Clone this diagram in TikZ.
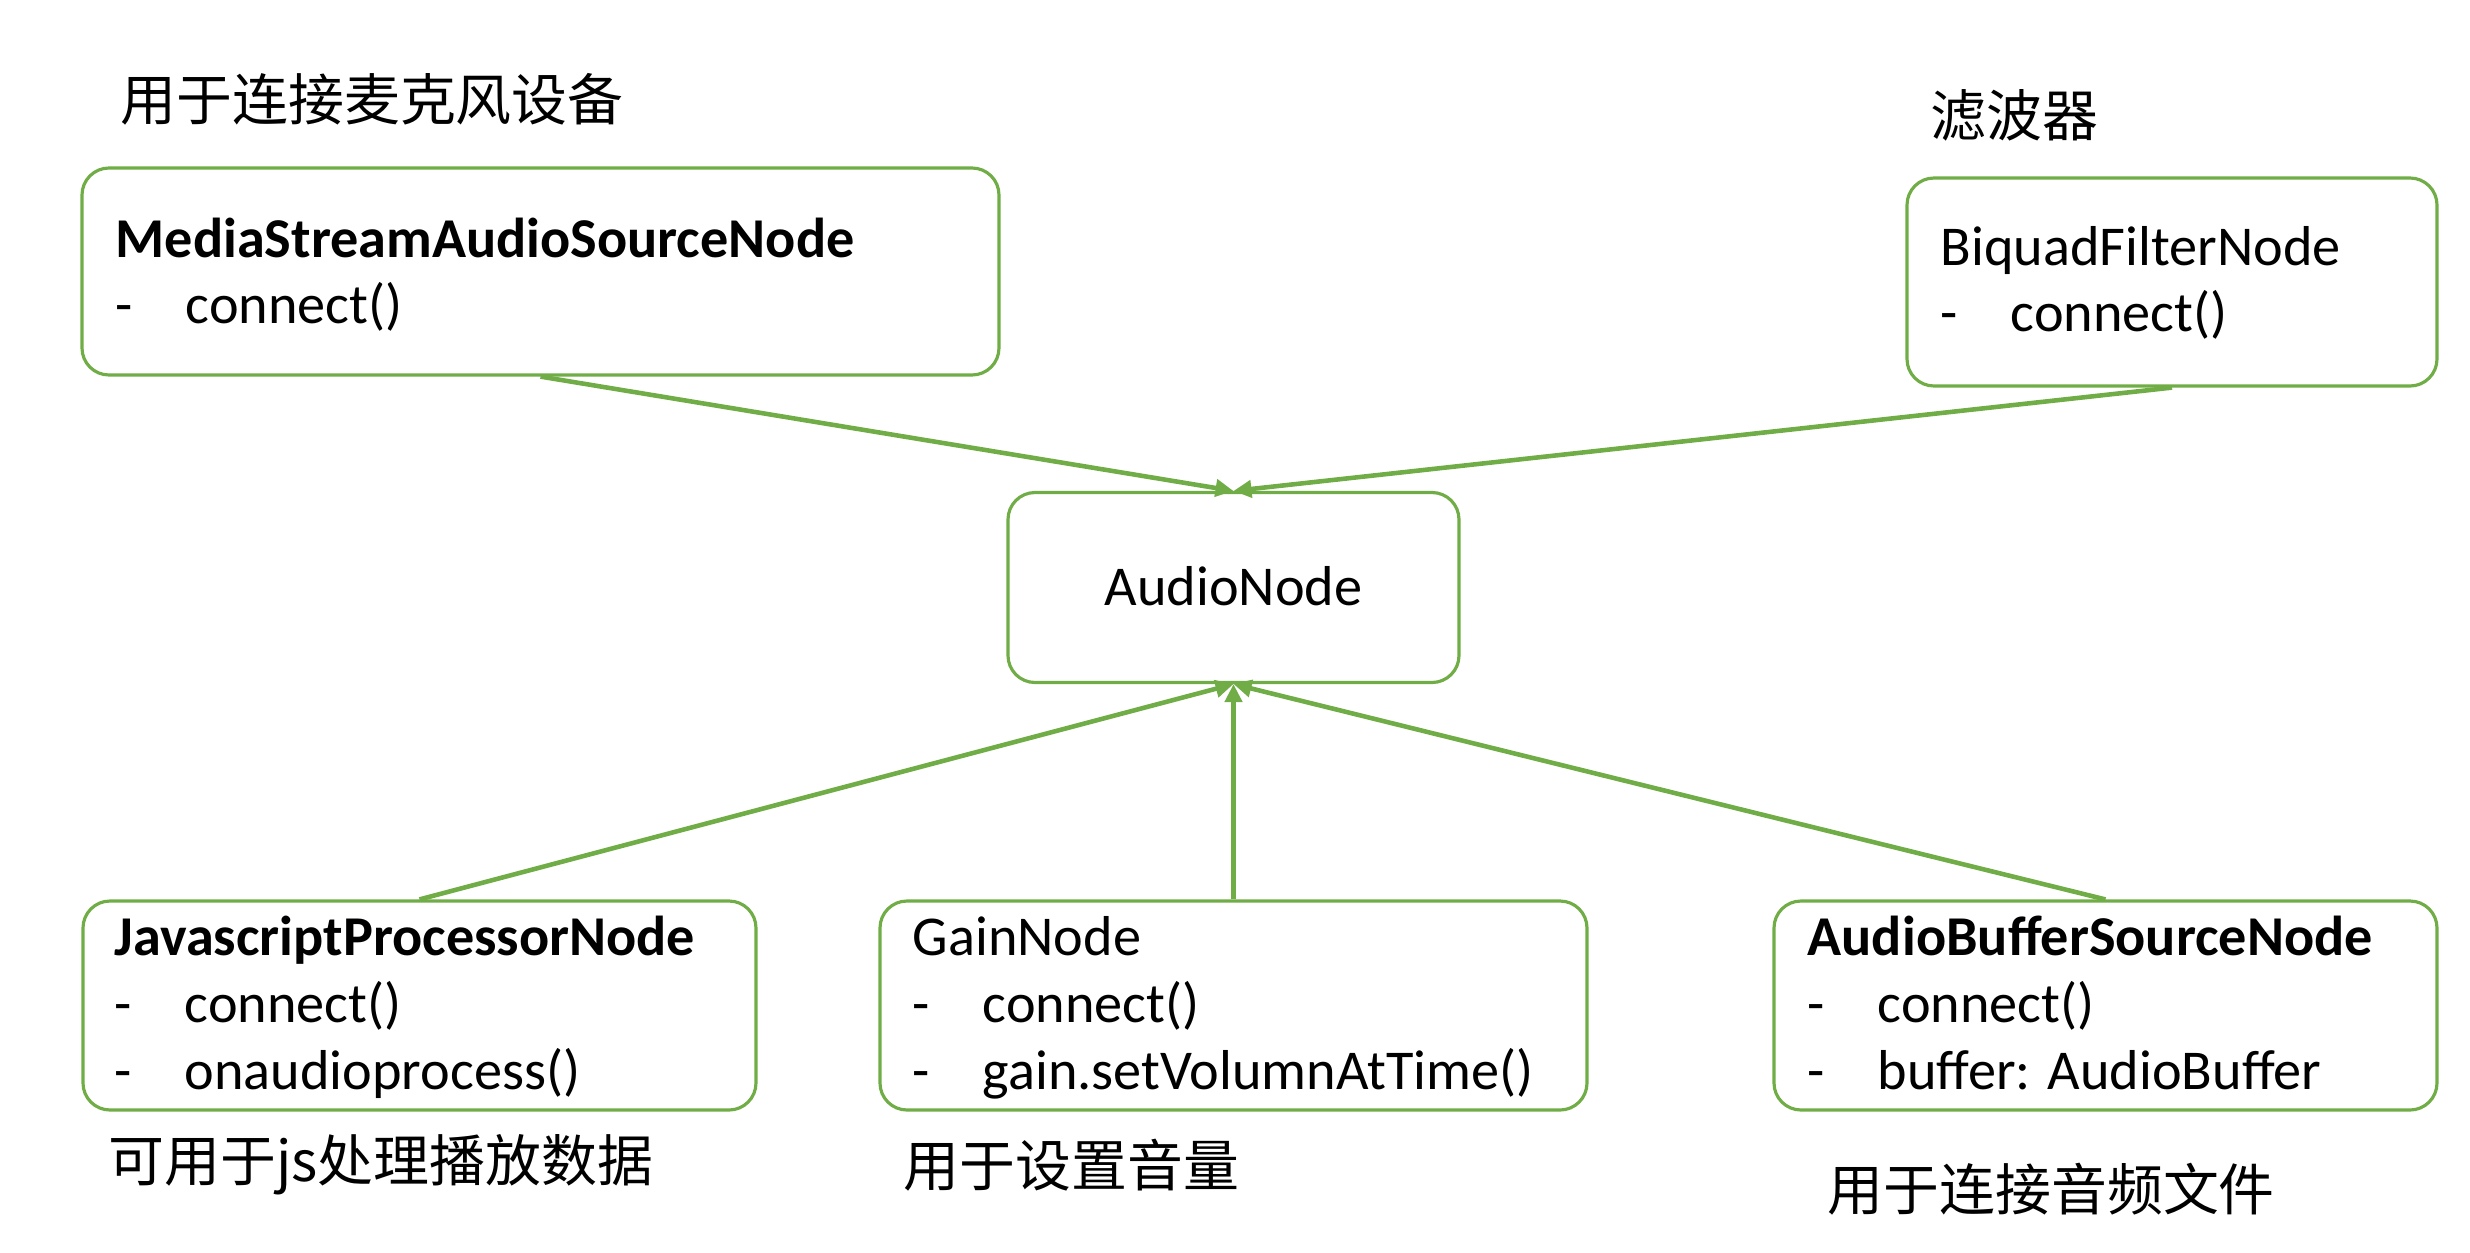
\documentclass[tikz,border=0pt]{standalone}
\usepackage{fontspec}
\setmainfont{Carlito}
\newfontfamily\cjk{Noto Sans CJK SC}
\usetikzlibrary{arrows.meta,calc}
\definecolor{lgreen}{HTML}{70AD47}
\tikzset{
  umlbox/.style={draw=lgreen, line width=0.9pt, rounded corners=0.27cm, inner sep=0pt, shape=rectangle},
  line/.style={anchor=base west, inner sep=0pt, font=\fontsize{16pt}{19pt}\selectfont},
  note/.style={anchor=west, inner sep=0pt, font=\cjk\fontsize{15.9pt}{18pt}\selectfont},
  link/.style={draw=lgreen, line width=1.3pt, -{Triangle[length=0.18cm,width=0.17cm]}}
}
\newcommand{\itm}[1]{\makebox[0.70cm][l]{-}#1}
\begin{document}
\begin{tikzpicture}
\useasboundingbox (0,0) rectangle (24.70,-12.52);
% boxes
\node[umlbox, minimum width=9.17cm, minimum height=2.07cm] (ms) at (5.405,-2.715) {};
\node[umlbox, minimum width=5.30cm, minimum height=2.08cm] (bq) at (21.72,-2.82) {};
\node[umlbox, minimum width=4.51cm, minimum height=1.90cm] (an) at (12.335,-5.875) {};
\node[umlbox, minimum width=6.73cm, minimum height=2.09cm] (js) at (4.195,-10.055) {};
\node[umlbox, minimum width=7.07cm, minimum height=2.09cm] (gn) at (12.335,-10.055) {};
\node[umlbox, minimum width=6.63cm, minimum height=2.09cm] (ab) at (21.055,-10.055) {};
% box texts
\node[line] (ms1) at (1.15,-2.57) {\bfseries MediaStreamAudioSourceNode};
\node[line] (ms2) at (1.15,-3.23) {\itm{connect()}};
\node[line] (bq1) at (19.40,-2.65) {BiquadFilterNode};
\node[line] (bq2) at (19.40,-3.31) {\itm{connect()}};
\node[line, anchor=base] (an1) at (12.335,-6.05) {AudioNode};
\node[line] (js1) at (1.14,-9.55) {\bfseries JavascriptProcessorNode};
\node[line] (js2) at (1.14,-10.22) {\itm{connect()}};
\node[line] (js3) at (1.14,-10.89) {\itm{onaudioprocess()}};
\node[line] (gn1) at (9.12,-9.55) {GainNode};
\node[line] (gn2) at (9.12,-10.22) {\itm{connect()}};
\node[line] (gn3) at (9.12,-10.89) {\itm{gain.setVolumnAtTime()}};
\node[line] (ab1) at (18.07,-9.55) {\bfseries AudioBufferSourceNode};
\node[line] (ab2) at (18.07,-10.22) {\itm{connect()}};
\node[line] (ab3) at (18.07,-10.89) {\itm{buffer: AudioBuffer}};
% notes
\node[note] (n1) at (1.20,-0.99) {用于连接麦克风设备};
\node[note] (n2) at (19.30,-1.15) {滤波器};
\node[note] (n3) at (1.08,-11.65) {可用于js处理播放数据};
\node[note] (n4) at (9.03,-11.65) {用于设置音量};
\node[note] (n5) at (18.27,-11.89) {用于连接音频文件};
% connectors
\draw[link] (ms.south) -- (an.north);
\draw[link] (bq.south) -- (an.north);
\draw[link] (js.north) -- (an.south);
\draw[link] (gn.north) -- (an.south);
\draw[link] (ab.north) -- (an.south);
\end{tikzpicture}
\end{document}
